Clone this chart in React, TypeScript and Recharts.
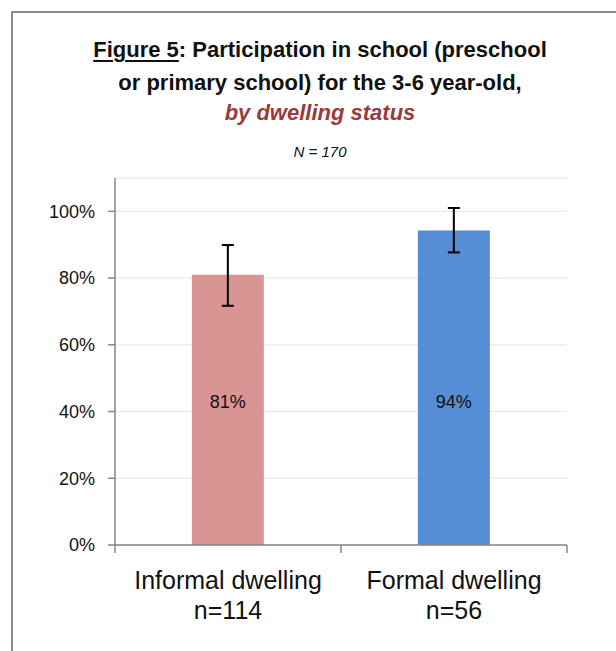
import React from 'react';
import { BarChart, Bar, XAxis, YAxis, CartesianGrid, ErrorBar, Cell, LabelList } from 'recharts';

// values
const categories = ['Informal dwelling', 'Formal dwelling'];
const sampleSizes = [114, 56];
const participation = [0.81, 0.943];
const errorLow = [0.093, 0.066];
const errorHigh = [0.089, 0.067];
const barColors = ['#d99594', '#558ed5'];
const yTicks = [0, 0.2, 0.4, 0.6, 0.8, 1];

const data = categories.map((name, i) => ({
  name,
  value: participation[i],
  err: [errorLow[i], errorHigh[i]],
}));

const FONT = '"Liberation Sans", Arial, sans-serif';
const AXIS = '#868686';
const PLOT_LEFT = 115;
const PLOT_RIGHT = 567;
const BAND = (PLOT_RIGHT - PLOT_LEFT) / categories.length;

const XTick = (props: any) => {
  const { x, y, payload, index } = props;
  const cx = Number(x);
  const cy = Number(y);
  const last = index === categories.length - 1;
  return (
    <g>
      <line x1={cx - BAND / 2} x2={cx - BAND / 2} y1={cy} y2={cy + 8} stroke={AXIS} strokeWidth={1.5} />
      {last && <line x1={cx + BAND / 2} x2={cx + BAND / 2} y1={cy} y2={cy + 8} stroke={AXIS} strokeWidth={1.5} />}
      <text x={cx} y={cy + 44} textAnchor="middle" fontSize={25} fill="#111" fontFamily={FONT}>
        {payload.value}
      </text>
      <text x={cx} y={cy + 74} textAnchor="middle" fontSize={25} fill="#111" fontFamily={FONT}>
        n={sampleSizes[index]}
      </text>
    </g>
  );
};

const ValueLabel = (props: any) => {
  const { x, y, width, height, value } = props;
  const bottom = Number(y) + Number(height);
  return (
    <text x={Number(x) + Number(width) / 2} y={bottom - 137} textAnchor="middle" fontSize={18} fill="#111" fontFamily={FONT}>
      {Math.round(Number(value) * 100)}%
    </text>
  );
};

const App: React.FC = () => {
  return (
    <div style={{ position: 'fixed', left: 0, top: 0, width: 616, height: 651, overflow: 'hidden', background: '#fff' }}>
      <div style={{ position: 'absolute', left: 11, top: 11, width: 800, height: 800, border: '2px solid #8c8c8c' }} />
      <div style={{ position: 'absolute', left: 24, width: 592, top: 33, textAlign: 'center', fontFamily: FONT, fontSize: 22, fontWeight: 'bold', lineHeight: '33px', color: '#111' }}>
        <div>
          <span style={{ textDecoration: 'underline', textDecorationThickness: 2, textUnderlineOffset: 3 }}>Figure 5</span>
          : Participation in school (preschool
        </div>
        <div>or primary school) for the 3-6 year-old,</div>
        <div style={{ color: '#9b3a3a', fontStyle: 'italic', marginTop: -3 }}>by dwelling status</div>
      </div>
      <div style={{ position: 'absolute', left: 24, width: 592, top: 142, textAlign: 'center', fontFamily: FONT, fontSize: 15, fontStyle: 'italic', lineHeight: '20px', color: '#111' }}>
        N = 170
      </div>
      <div style={{ position: 'absolute', left: 0, top: 0 }}>
        <BarChart
          width={616}
          height={651}
          data={data}
          margin={{ top: 178, right: 616 - PLOT_RIGHT, bottom: 0, left: PLOT_LEFT - 60 }}
          barCategoryGap="34%"
        >
          <CartesianGrid vertical={false} stroke="#eeede6" strokeWidth={1.5} />
          <XAxis
            dataKey="name"
            height={106}
            tickLine={false}
            tickSize={0}
            tickMargin={0}
            axisLine={{ stroke: AXIS, strokeWidth: 1.5 }}
            tick={<XTick />}
            interval={0}
          />
          <YAxis
            width={60}
            domain={[0, 1.1]}
            ticks={yTicks}
            tickFormatter={(v: number) => `${Math.round(v * 100)}%`}
            axisLine={{ stroke: AXIS, strokeWidth: 1.5 }}
            tickLine={{ stroke: AXIS, strokeWidth: 1.5 }}
            tickSize={7}
            tickMargin={13}
            tick={{ fontSize: 18, fill: '#111', fontFamily: FONT }}
            allowDataOverflow
          />
          <Bar dataKey="value" isAnimationActive={false}>
            {data.map((d, i) => (
              <Cell key={d.name} fill={barColors[i]} />
            ))}
            <LabelList dataKey="value" content={<ValueLabel />} />
            <ErrorBar dataKey="err" direction="y" width={6} strokeWidth={2} stroke="#000" isAnimationActive={false} />
          </Bar>
        </BarChart>
      </div>
    </div>
  );
};

export default App;
